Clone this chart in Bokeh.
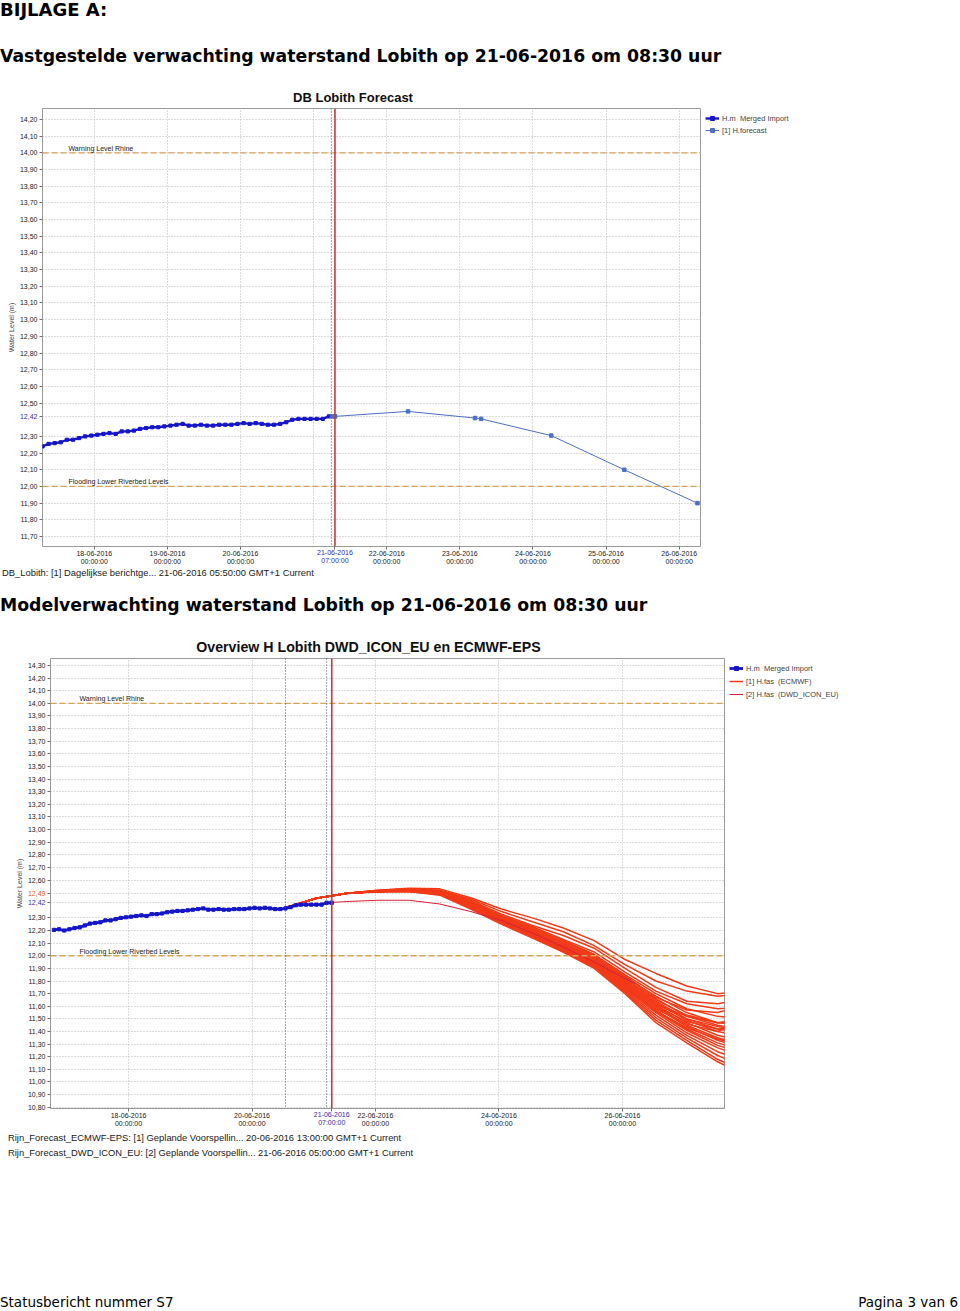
import pandas as pd
from bokeh.plotting import figure
from bokeh.models import (Div, Span, Label, FixedTicker, Range1d, Legend, LegendItem, Spacer,
                          LinearAxis)
from bokeh.layouts import column, row
from bokeh.embed import file_html
from bokeh.resources import INLINE

# ---------------- data ----------------
# H.m Merged Import (observed), 2-hourly from 16-06-2016 19:00 to 21-06-2016 07:00
obs_first = "2016-06-16 19:00"
obs_level = [12.205, 12.21, 12.20, 12.21, 12.22, 12.225,
             12.24, 12.255, 12.26, 12.265, 12.28, 12.28, 12.29, 12.30, 12.305, 12.31,
             12.315, 12.32, 12.315, 12.33, 12.33, 12.335, 12.345, 12.35, 12.355, 12.355,
             12.36, 12.365, 12.37, 12.375, 12.365, 12.365, 12.37, 12.365, 12.365, 12.37,
             12.37, 12.37, 12.375, 12.38, 12.375, 12.38, 12.375, 12.37, 12.37, 12.375,
             12.385, 12.40, 12.405, 12.405, 12.405, 12.405, 12.405, 12.42, 12.42]

# [1] H.forecast (DB Lobith)
fc_time = ["2016-06-21 06:00", "2016-06-21 07:00", "2016-06-22 07:00", "2016-06-23 05:00",
           "2016-06-23 07:00", "2016-06-24 06:00", "2016-06-25 06:00", "2016-06-26 06:00"]
fc_level = [12.42, 12.42, 12.45, 12.41, 12.405, 12.305, 12.10, 11.90]

# [1] H.fas (ECMWF) ensemble members, 12-hourly from 20-06-2016 13:00
ens_time = ["2016-06-20 13:00", "2016-06-21 01:00", "2016-06-21 13:00", "2016-06-22 01:00",
            "2016-06-22 13:00", "2016-06-23 01:00", "2016-06-23 13:00", "2016-06-24 01:00",
            "2016-06-24 13:00", "2016-06-25 01:00", "2016-06-25 13:00", "2016-06-26 01:00",
            "2016-06-26 13:00", "2016-06-27 01:00", "2016-06-27 13:00", "2016-06-28 01:00"]
ens_members = [
    [12.38, 12.455, 12.495, 12.52, 12.535, 12.53, 12.46, 12.37, 12.30, 12.22, 12.12, 11.97, 11.86, 11.76, 11.70, 11.72],
    [12.38, 12.455, 12.495, 12.52, 12.53, 12.52, 12.45, 12.35, 12.27, 12.19, 12.08, 11.93, 11.80, 11.72, 11.68, 11.70],
    [12.38, 12.455, 12.495, 12.515, 12.53, 12.52, 12.44, 12.33, 12.24, 12.16, 12.06, 11.90, 11.75, 11.64, 11.62, 11.66],
    [12.38, 12.455, 12.495, 12.515, 12.53, 12.515, 12.43, 12.32, 12.23, 12.13, 12.03, 11.87, 11.72, 11.62, 11.58, 11.60],
    [12.38, 12.455, 12.495, 12.515, 12.525, 12.51, 12.43, 12.31, 12.22, 12.12, 12.01, 11.85, 11.70, 11.58, 11.52, 11.50],
    [12.38, 12.455, 12.495, 12.51, 12.525, 12.51, 12.42, 12.31, 12.21, 12.11, 12.00, 11.83, 11.68, 11.55, 11.47, 11.44],
    [12.38, 12.455, 12.495, 12.515, 12.525, 12.505, 12.42, 12.30, 12.20, 12.10, 11.99, 11.82, 11.66, 11.52, 11.45, 11.41],
    [12.38, 12.455, 12.495, 12.51, 12.52, 12.505, 12.41, 12.30, 12.20, 12.09, 11.98, 11.81, 11.64, 11.50, 11.42, 11.38],
    [12.38, 12.455, 12.495, 12.51, 12.52, 12.50, 12.41, 12.29, 12.19, 12.08, 11.97, 11.80, 11.63, 11.49, 11.40, 11.35],
    [12.38, 12.455, 12.495, 12.51, 12.52, 12.50, 12.40, 12.29, 12.19, 12.08, 11.96, 11.79, 11.61, 11.47, 11.37, 11.31],
    [12.38, 12.455, 12.495, 12.51, 12.52, 12.50, 12.40, 12.28, 12.18, 12.07, 11.95, 11.78, 11.60, 11.45, 11.35, 11.29],
    [12.38, 12.455, 12.495, 12.51, 12.515, 12.495, 12.40, 12.28, 12.18, 12.06, 11.94, 11.77, 11.59, 11.44, 11.33, 11.26],
    [12.38, 12.455, 12.495, 12.51, 12.515, 12.495, 12.39, 12.28, 12.17, 12.06, 11.93, 11.76, 11.57, 11.42, 11.31, 11.24],
    [12.38, 12.455, 12.495, 12.51, 12.515, 12.49, 12.39, 12.27, 12.17, 12.05, 11.93, 11.75, 11.56, 11.41, 11.29, 11.22],
    [12.38, 12.455, 12.495, 12.51, 12.515, 12.49, 12.39, 12.27, 12.16, 12.05, 11.92, 11.74, 11.55, 11.39, 11.27, 11.19],
    [12.38, 12.455, 12.495, 12.51, 12.51, 12.49, 12.38, 12.27, 12.16, 12.04, 11.92, 11.73, 11.53, 11.37, 11.24, 11.15],
    [12.38, 12.455, 12.495, 12.51, 12.51, 12.49, 12.38, 12.26, 12.15, 12.04, 11.91, 11.72, 11.51, 11.35, 11.21, 11.11],
    [12.38, 12.455, 12.495, 12.51, 12.51, 12.485, 12.38, 12.26, 12.15, 12.03, 11.91, 11.71, 11.49, 11.33, 11.18, 11.07],
    [12.38, 12.455, 12.495, 12.505, 12.51, 12.48, 12.37, 12.25, 12.14, 12.03, 11.90, 11.70, 11.47, 11.31, 11.16, 11.04],
    [12.38, 12.455, 12.495, 12.51, 12.52, 12.50, 12.40, 12.28, 12.17, 12.06, 11.94, 11.76, 11.58, 11.46, 11.40, 11.52],
    [12.38, 12.455, 12.495, 12.51, 12.52, 12.50, 12.41, 12.29, 12.18, 12.07, 11.95, 11.78, 11.62, 11.52, 11.47, 11.50],
    [12.38, 12.455, 12.495, 12.51, 12.515, 12.495, 12.40, 12.28, 12.18, 12.07, 11.95, 11.77, 11.60, 11.48, 11.42, 11.45],
    [12.38, 12.455, 12.495, 12.515, 12.525, 12.51, 12.42, 12.31, 12.22, 12.12, 12.01, 11.84, 11.67, 11.57, 11.55, 11.62],
    [12.38, 12.455, 12.495, 12.51, 12.52, 12.505, 12.41, 12.30, 12.20, 12.09, 11.97, 11.80, 11.62, 11.50, 11.44, 11.40],
    [12.38, 12.455, 12.495, 12.51, 12.52, 12.50, 12.41, 12.30, 12.20, 12.10, 11.98, 11.82, 11.65, 11.53, 11.47, 11.48],
    [12.38, 12.455, 12.495, 12.51, 12.515, 12.49, 12.39, 12.27, 12.16, 12.05, 11.93, 11.75, 11.56, 11.43, 11.34, 11.28],
]

# [2] H.fas (DWD_ICON_EU)
dwd_time = ["2016-06-21 05:00", "2016-06-21 13:00", "2016-06-22 01:00", "2016-06-22 13:00",
            "2016-06-23 01:00", "2016-06-23 13:00", "2016-06-24 01:00", "2016-06-24 13:00",
            "2016-06-25 01:00", "2016-06-25 13:00", "2016-06-26 01:00", "2016-06-26 05:00"]
dwd_level = [12.42, 12.43, 12.44, 12.44, 12.41, 12.35, 12.28, 12.18, 12.07, 11.95, 11.82, 11.78]

warning_level = 14.00
flooding_level = 12.00
t0_time = "2016-06-21 07:00"
t0_label = "21-06-2016\n07:00:00"

top_xticks = ["2016-06-18", "2016-06-19", "2016-06-20", "2016-06-22", "2016-06-23",
              "2016-06-24", "2016-06-25", "2016-06-26"]
top_xgrid = ["2016-06-18", "2016-06-19", "2016-06-20", "2016-06-21", "2016-06-22",
             "2016-06-23", "2016-06-24", "2016-06-25", "2016-06-26"]
bot_xticks = ["2016-06-18", "2016-06-20", "2016-06-22", "2016-06-24", "2016-06-26"]


def ms(s):
    return pd.Timestamp(s).value / 1e6


obs_x = [v.value / 1e6 for v in pd.date_range(obs_first, periods=len(obs_level), freq="2h")]

FONT = "Liberation Sans"
GRID = "#b8b8b8"
BLUE = "#1616c8"
FC_BLUE = "#4d6fc4"
ECMWF_RED = "#f23a18"
DWD_RED = "#d8243c"
T0_BLUE = "#2e2eaa"
Y_SHIFT = -21   # pulls stacked label columns back onto the first column
X_SHIFT = -17


def style_axis(ax, tick_out, standoff, color="#202020"):
    ax.axis_line_color = None
    ax.major_tick_out = tick_out
    ax.major_tick_in = 0
    ax.major_tick_line_color = "#707070"
    ax.minor_tick_line_color = None
    ax.major_label_text_font = FONT
    ax.major_label_text_font_size = "7px"
    ax.major_label_text_color = color
    ax.major_label_standoff = standoff


def comma(v):
    return ("%.2f" % v).replace(".", ",")


def make_chart(frame_w, frame_h, xr, yr, left_border, yticks, special, xticks, xgrid,
               fc_times, label_dx):
    p = figure(frame_width=frame_w, frame_height=frame_h, x_axis_type="datetime",
               x_range=Range1d(ms(xr[0]), ms(xr[1])), y_range=Range1d(yr[0], yr[1]),
               output_backend="svg", toolbar_location=None,
               min_border_left=left_border, min_border_top=2, min_border_bottom=22,
               min_border_right=0, outline_line_color="#9a9a9a", margin=0)
    spec_vals = [s[0] for s in special]
    all_yt = yticks + spec_vals
    # y axes: coloured special labels next to the frame, regular labels pulled onto the same column
    ya = p.yaxis[0]
    ya.ticker = FixedTicker(ticks=all_yt)
    ya.major_label_overrides = {v: ("" if v in spec_vals else comma(v)) for v in all_yt}
    style_axis(ya, 0, Y_SHIFT)
    ya.axis_label = "Water Level (m)"
    ya.axis_label_text_font = FONT
    ya.axis_label_text_font_size = "7px"
    ya.axis_label_text_font_style = "normal"
    ya.axis_label_standoff = 2
    left_axes = []
    for i, (yv, col) in enumerate(special):
        sa = LinearAxis(ticker=FixedTicker(ticks=all_yt),
                        major_label_overrides={v: (comma(v) if v == yv else "") for v in all_yt})
        if i == 0:
            style_axis(sa, 3, 2, col)
        else:
            style_axis(sa, 0, Y_SHIFT, col)
        left_axes.append(sa)
    p.left = left_axes + [ya]
    # x axes
    xa = p.xaxis[0]
    xt = [ms(d) for d in xticks] + [ms(t0_time)]
    xa.ticker = FixedTicker(ticks=xt)
    over = {ms(d): pd.Timestamp(d).strftime("%d-%m-%Y") + "\n00:00:00" for d in xticks}
    over[ms(t0_time)] = ""
    xa.major_label_overrides = over
    style_axis(xa, 0, X_SHIFT)
    sx = LinearAxis(ticker=FixedTicker(ticks=xt),
                    major_label_overrides={t: (t0_label if t == ms(t0_time) else "") for t in xt})
    style_axis(sx, 3, -1, T0_BLUE)
    p.below = [sx, xa]
    # grids
    p.xgrid.ticker = FixedTicker(ticks=[ms(d) for d in xgrid])
    p.xgrid.grid_line_color = GRID
    p.xgrid.grid_line_dash = "1 2"
    p.ygrid.ticker = FixedTicker(ticks=all_yt)
    p.ygrid.grid_line_color = GRID
    p.ygrid.grid_line_dash = "1 2"
    # threshold lines
    for lev, txt in [(warning_level, "Warning Level Rhine"), (flooding_level, "Flooding Lower Riverbed Levels")]:
        p.add_layout(Span(location=lev, dimension="width", line_color="#d6a455",
                          line_dash="6 3", line_width=1.3))
        p.add_layout(Label(x=ms(xr[0]), y=lev, x_offset=label_dx, y_offset=1, text=txt,
                           text_font=FONT, text_font_size="7px", text_color="#202020",
                           text_baseline="bottom"))
    # forecast time lines
    for ft in fc_times:
        p.add_layout(Span(location=ms(ft), dimension="height", line_color="#505050",
                          line_dash="1 2", line_width=1))
    p.add_layout(Span(location=ms(t0_time), dimension="height", line_color="#c23a3a",
                      line_width=1.6))
    return p


def yt_list(lo, hi, skip):
    vals = []
    k = 0
    while True:
        v = round(lo + 0.1 * k, 2)
        if v > hi + 1e-9:
            break
        if v not in skip:
            vals.append(v)
        k += 1
    return vals


# ---------------- top chart ----------------
p1 = make_chart(658, 438, ("2016-06-17 07:00", "2016-06-26 07:00"), (11.64, 14.266), 42,
                yt_list(11.7, 14.2, [12.4]), [(12.42, T0_BLUE)], top_xticks, top_xgrid,
                ["2016-06-21 05:50"], 26)

r_obs_l = p1.line(obs_x, obs_level, line_color=BLUE, line_width=2.4)
r_obs_m = p1.scatter(obs_x, obs_level, marker="square", size=3.2, color=BLUE)
fx = [ms(t) for t in fc_time]
r_fc_l = p1.line(fx, fc_level, line_color=FC_BLUE, line_width=1)
r_fc_m = p1.scatter(fx, fc_level, marker="square", size=3.5, color=FC_BLUE)

leg1 = Legend(items=[LegendItem(label="H.m  Merged Import", renderers=[r_obs_l, r_obs_m]),
                     LegendItem(label="[1] H.forecast", renderers=[r_fc_l, r_fc_m])],
              location="top_left", label_text_font=FONT, label_text_font_size="7.5px",
              glyph_width=14, glyph_height=10, label_height=10, spacing=2, padding=2,
              margin=5, label_standoff=3, border_line_color=None, background_fill_alpha=0)
p1.add_layout(leg1, "right")

# ---------------- bottom chart ----------------
p2 = make_chart(674, 450, ("2016-06-16 17:40", "2016-06-27 15:40"), (10.79, 14.355), 50,
                yt_list(10.8, 14.3, [12.4, 12.5]), [(12.42, T0_BLUE), (12.49, "#e0582a")],
                bot_xticks, bot_xticks, ["2016-06-20 13:00", "2016-06-21 05:00"], 29)

ex = [ms(t) for t in ens_time]
r_ens = p2.multi_line([ex] * len(ens_members), ens_members, line_color=ECMWF_RED, line_width=1.5)
dx = [ms(t) for t in dwd_time]
r_dwd = p2.line(dx, dwd_level, line_color=DWD_RED, line_width=1.1)
r2_obs_l = p2.line(obs_x, obs_level, line_color=BLUE, line_width=2.8)
r2_obs_m = p2.scatter(obs_x, obs_level, marker="square", size=3.2, color=BLUE)

leg2 = Legend(items=[LegendItem(label="H.m  Merged Import", renderers=[r2_obs_l, r2_obs_m]),
                     LegendItem(label="[1] H.fas  (ECMWF)", renderers=[r_ens]),
                     LegendItem(label="[2] H.fas  (DWD_ICON_EU)", renderers=[r_dwd])],
              location="top_left", label_text_font=FONT, label_text_font_size="7.5px",
              glyph_width=14, glyph_height=10, label_height=10, spacing=3, padding=2,
              margin=5, label_standoff=3, border_line_color=None, background_fill_alpha=0)
p2.add_layout(leg2, "right")

# ---------------- page text ----------------
HEAD = {"font-family": "DejaVu Sans", "font-weight": "bold", "font-size": "17.3px",
        "line-height": "20px", "color": "black", "white-space": "nowrap"}
d_bijlage = Div(text="BIJLAGE A:", width=944, height=46, margin=0,
                styles=dict(HEAD, **{"font-size": "18px"}))
d_head1 = Div(text="Vastgestelde verwachting waterstand Lobith op 21-06-2016 om 08:30 uur",
              width=944, height=44, margin=0, styles=HEAD)
TITLE = {"font-family": FONT, "font-weight": "bold", "font-size": "13px",
         "line-height": "16px", "text-align": "center", "color": "#101010"}
d_t1 = Div(text="DB Lobith Forecast", width=706, height=16, margin=0, styles=TITLE)
SRC = {"font-family": FONT, "font-size": "9.4px", "color": "#202020", "white-space": "nowrap"}
d_src1 = Div(text="DB_Lobith: [1] Dagelijkse berichtge... 21-06-2016 05:50:00 GMT+1 Current",
             width=944, height=27, margin=0,
             styles=dict(SRC, **{"line-height": "10px", "padding-left": "2px"}))
d_head2 = Div(text="Modelverwachting waterstand Lobith op 21-06-2016 om 08:30 uur",
              width=944, height=44, margin=0, styles=HEAD)
d_t2 = Div(text="Overview H Lobith DWD_ICON_EU en ECMWF-EPS", width=737, height=17,
           margin=0, styles=dict(TITLE, **{"font-size": "14.2px"}))
d_src2 = Div(text="Rijn_Forecast_ECMWF-EPS: [1] Geplande Voorspellin... 20-06-2016 13:00:00 GMT+1 Current<br>"
                  "Rijn_Forecast_DWD_ICON_EU: [2] Geplande Voorspellin... 21-06-2016 05:00:00 GMT+1 Current",
             width=944, height=32, margin=0,
             styles=dict(SRC, **{"line-height": "15px", "padding-left": "8px"}))
d_foot = Div(text='<div style="display:flex;justify-content:space-between;width:958px">'
                  '<span>Statusbericht nummer S7</span><span>Pagina 3 van 6</span></div>',
             width=958, height=16, margin=0,
             styles={"font-family": "DejaVu Sans", "font-size": "13.5px", "line-height": "16px",
                     "white-space": "nowrap"})

page = column(d_bijlage, d_head1, d_t1, row(p1), d_src1, d_head2, d_t2, row(p2), d_src2,
              Spacer(width=944, height=132), d_foot, spacing=0)

open("out.html", "w").write(file_html(page, INLINE))
